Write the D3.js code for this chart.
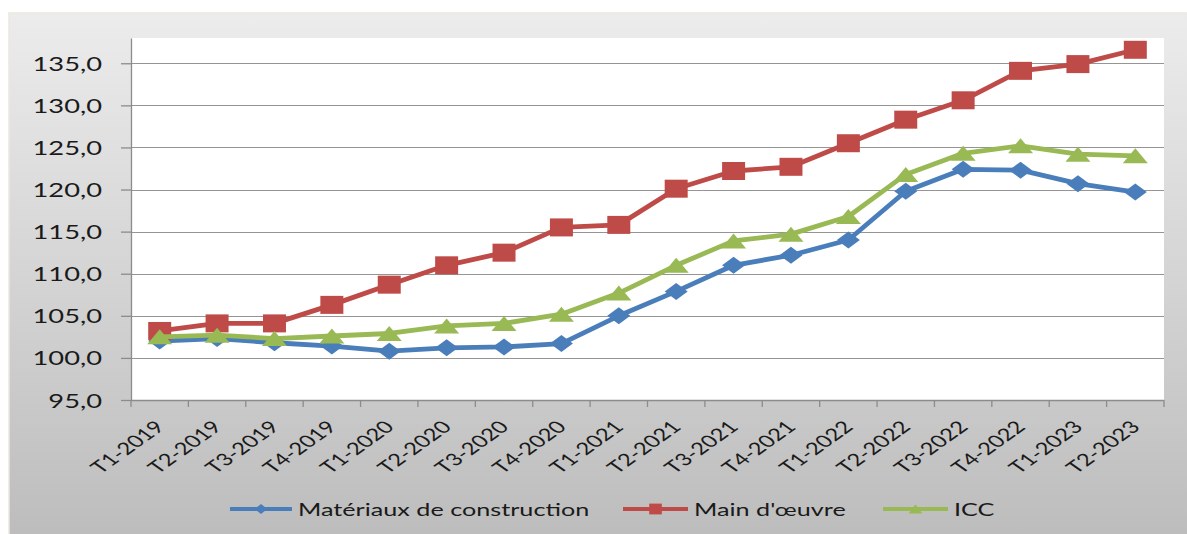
<!DOCTYPE html>
<html>
<head>
<meta charset="utf-8">
<script src="https://cdn.jsdelivr.net/npm/d3@7"></script>
<style>
  body { margin: 0; background: #fff; }
  svg text { font-family: Lato, "Noto Sans", sans-serif; fill: #1a1a1a; }
</style>
</head>
<body>
<div id="chart"></div>
<script>
// categories and series
var quarters = ["T1-2019","T2-2019","T3-2019","T4-2019","T1-2020","T2-2020","T3-2020","T4-2020",
                "T1-2021","T2-2021","T3-2021","T4-2021","T1-2022","T2-2022","T3-2022","T4-2022",
                "T1-2023","T2-2023"];
var materiaux = [102.0,102.3,101.8,101.4,100.8,101.2,101.3,101.7,105.0,107.9,111.0,112.2,114.0,119.8,122.4,122.3,120.7,119.7];
var mainOeuvre = [103.2,104.1,104.1,106.3,108.7,111.0,112.5,115.5,115.8,120.1,122.2,122.7,125.5,128.3,130.6,134.1,134.9,136.6];
var icc = [102.5,102.7,102.3,102.6,102.9,103.8,104.1,105.2,107.7,111.0,113.9,114.7,116.8,121.8,124.3,125.2,124.2,124.0];
var yTicks = [95,100,105,110,115,120,125,130,135];

var series = [
  {name: "Matériaux de construction", values: materiaux, color: "#4a7ebb", marker: "diamond"},
  {name: "Main d'œuvre", values: mainOeuvre, color: "#be4b48", marker: "square"},
  {name: "ICC", values: icc, color: "#98b954", marker: "triangle"}
];

var W = 1187, H = 534;
var SX = 1.4; // the picture is stretched horizontally
var plot = {left: 131, right: 1164, top: 38, bottom: 400};

var svg = d3.select("#chart").append("svg").attr("width", W).attr("height", H);

var defs = svg.append("defs");
var grad = defs.append("linearGradient").attr("id", "bg")
  .attr("gradientUnits", "userSpaceOnUse")
  .attr("x1", 0).attr("y1", 13).attr("x2", 0).attr("y2", H);
grad.append("stop").attr("offset", "0").attr("stop-color", "#ececec");
grad.append("stop").attr("offset", "1").attr("stop-color", "#bdbdbd");

svg.append("rect").attr("x", 9).attr("y", 13).attr("width", W).attr("height", H)
  .attr("fill", "url(#bg)").attr("stroke", "#ebe7dc").attr("stroke-width", 1.5);

svg.append("rect").attr("x", plot.left).attr("y", plot.top)
  .attr("width", plot.right - plot.left).attr("height", plot.bottom - plot.top)
  .attr("fill", "#fff");

var x = d3.scaleBand().domain(quarters).range([plot.left, plot.right]);
var y = d3.scaleLinear().domain([95, 138]).range([plot.bottom, plot.top]);
function cx(i){ return x(quarters[i]) + x.bandwidth()/2; }

// gridlines
svg.append("g").selectAll("line").data(yTicks.slice(1)).enter().append("line")
  .attr("x1", plot.left).attr("x2", plot.right)
  .attr("y1", function(d){ return Math.round(y(d)) + 0.5; })
  .attr("y2", function(d){ return Math.round(y(d)) + 0.5; })
  .attr("stroke", "#959595").attr("stroke-width", 1.2);

// y axis
var yAxis = d3.axisLeft(y).tickValues(yTicks).tickSize(10).tickSizeOuter(0)
  .tickFormat(function(d){ return d3.format(".1f")(d).replace(".", ","); });
var gy = svg.append("g").attr("transform", "translate(" + plot.left + ",0)").call(yAxis);
gy.select(".domain").attr("stroke", "#8c8c8c").attr("stroke-width", 1.3);
gy.selectAll(".tick line").attr("stroke", "#8c8c8c").attr("stroke-width", 1.3);
gy.selectAll(".tick text").attr("x", null).attr("dy", null)
  .attr("text-anchor", "end").style("font-size", "19.5px")
  .attr("transform", "translate(-29,7) scale(" + SX + ",1)");

// x axis: ticks at band edges
var edges = quarters.map(function(q){ return x(q); }).concat([plot.right]);
var gx = svg.append("g");
gx.append("line").attr("x1", plot.left).attr("x2", plot.right)
  .attr("y1", plot.bottom + 0.5).attr("y2", plot.bottom + 0.5)
  .attr("stroke", "#8c8c8c").attr("stroke-width", 1.3);
gx.selectAll("line.tk").data(edges).enter().append("line").attr("class", "tk")
  .attr("x1", function(d){ return d; }).attr("x2", function(d){ return d; })
  .attr("y1", plot.bottom).attr("y2", plot.bottom + 7)
  .attr("stroke", "#8c8c8c").attr("stroke-width", 1.3);
gx.selectAll("text").data(quarters).enter().append("text")
  .attr("text-anchor", "end").style("font-size", "17px")
  .attr("transform", function(d, i){
    return "translate(" + (cx(i) + 6) + ",428) scale(" + SX + ",1) rotate(-45)";
  })
  .text(function(d){ return d; });

// marker shapes
function markerPath(type, hw, hh){
  if (type === "diamond") return "M0," + (-hh) + "L" + hw + ",0L0," + hh + "L" + (-hw) + ",0Z";
  if (type === "square") return "M" + (-hw) + "," + (-hh) + "H" + hw + "V" + hh + "H" + (-hw) + "Z";
  return "M0," + (-hh) + "L" + hw + "," + hh + "L" + (-hw) + "," + hh + "Z";
}
var markerSize = {diamond: [11.5, 8.5], square: [11.5, 9], triangle: [12.5, 7.5]};

var line = d3.line().x(function(d, i){ return cx(i); }).y(function(d){ return y(d); });

series.forEach(function(s){
  var g = svg.append("g");
  g.append("path").datum(s.values).attr("d", line)
    .attr("fill", "none").attr("stroke", s.color).attr("stroke-width", 4.8)
    .attr("stroke-linejoin", "round");
  var ms = markerSize[s.marker];
  g.selectAll("path.m").data(s.values).enter().append("path").attr("class", "m")
    .attr("d", markerPath(s.marker, ms[0], ms[1]))
    .attr("transform", function(d, i){ return "translate(" + cx(i) + "," + y(d) + ")"; })
    .attr("fill", s.color);
});

// legend
var legendX = [230, 623, 883];
var lg = svg.append("g");
series.forEach(function(s, i){
  var lx = legendX[i], ly = 509;
  var len = i === 0 ? 62 : 65;
  lg.append("line").attr("x1", lx).attr("x2", lx + len).attr("y1", ly).attr("y2", ly)
    .attr("stroke", s.color).attr("stroke-width", 4);
  var ms = markerSize[s.marker];
  lg.append("path").attr("d", markerPath(s.marker, ms[0] * 0.55, ms[1] * 0.6))
    .attr("transform", "translate(" + (lx + len/2) + "," + ly + ")").attr("fill", s.color);
  lg.append("text").attr("transform", "translate(" + (lx + len + 6) + "," + (ly + 7) + ") scale(" + SX + ",1)")
    .style("font-size", "18px").text(s.name);
});
</script>
</body>
</html>
